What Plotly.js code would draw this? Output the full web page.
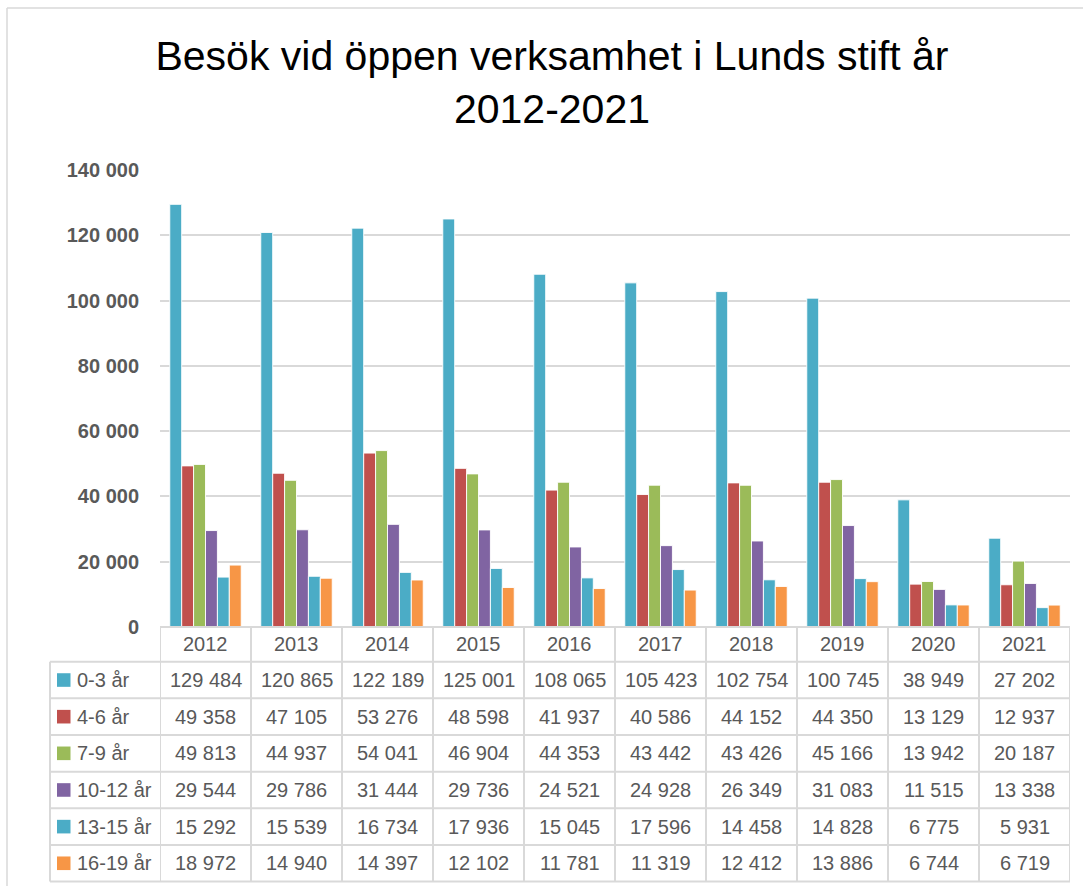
<!DOCTYPE html>
<html>
<head>
<meta charset="utf-8">
<script src="https://cdn.plot.ly/plotly-3.0.1.min.js"></script>
<style>html,body{margin:0;padding:0;background:#fff;}#chart{width:1083px;height:886px;}</style>
</head>
<body>
<div id="chart"></div>
<script>
// ---- Data ----
const years = ['2012','2013','2014','2015','2016','2017','2018','2019','2020','2021'];
const seriesNames = ['0-3 år','4-6 år','7-9 år','10-12 år','13-15 år','16-19 år'];
const age0_3   = [129484,120865,122189,125001,108065,105423,102754,100745,38949,27202];
const age4_6   = [49358,47105,53276,48598,41937,40586,44152,44350,13129,12937];
const age7_9   = [49813,44937,54041,46904,44353,43442,43426,45166,13942,20187];
const age10_12 = [29544,29786,31444,29736,24521,24928,26349,31083,11515,13338];
const age13_15 = [15292,15539,16734,17936,15045,17596,14458,14828,6775,5931];
const age16_19 = [18972,14940,14397,12102,11781,11319,12412,13886,6744,6719];
const seriesValues = [age0_3, age4_6, age7_9, age10_12, age13_15, age16_19];
const colors = ['#4BACC6','#C0504D','#9BBB59','#8064A2','#4BACC6','#F79646'];

// ---- Geometry helpers (pixel -> paper) ----
const W = 1083, H = 886;
const mL = 160, mR = 13, mT = 170, mB = 259;
const plotW = W - mL - mR, plotH = H - mT - mB;
const px = x => (x - mL) / plotW;
const py = y => (H - mB - y) / plotH;

const fmt = v => String(v).replace(/\B(?=(\d{3})+(?!\d))/g, ' ');

const traces = seriesValues.map((vals, i) => ({
  type: 'bar',
  name: seriesNames[i],
  x: years,
  y: vals,
  marker: {color: colors[i], line: {color: 'rgba(255,255,255,0.9)', width: 1}},
  hoverinfo: 'skip'
}));

const lineCol = '#d9d9d9';
const shapes = [];
const annotations = [];
const tableTop = 627, headBottom = 661.7, rowH = 36.65;
const tableBottom = headBottom + rowH * seriesNames.length;

// header top line
shapes.push({type:'line', xref:'paper', yref:'paper', x0:0, x1:1, y0:py(tableTop), y1:py(tableTop), line:{color:lineCol, width:2}});
// row lines
for (let r = 0; r <= seriesNames.length; r++) {
  const y = headBottom + rowH * r;
  shapes.push({type:'line', xref:'paper', yref:'paper', x0:px(50), x1:1, y0:py(y), y1:py(y), line:{color:lineCol, width:2}});
}
// vertical lines at category boundaries
for (let c = 0; c <= years.length; c++) {
  shapes.push({type:'line', xref:'x', yref:'paper', x0:c - 0.5, x1:c - 0.5, y0:py(tableTop), y1:py(tableBottom), line:{color:lineCol, width:2}});
}
// left border of label column
shapes.push({type:'line', xref:'paper', yref:'paper', x0:px(50), x1:px(50), y0:py(headBottom), y1:py(tableBottom), line:{color:lineCol, width:2}});
// outer chart border (top and left)
shapes.push({type:'line', xref:'paper', yref:'paper', x0:px(7), x1:px(1083), y0:py(8), y1:py(8), line:{color:lineCol, width:1.5}});
shapes.push({type:'line', xref:'paper', yref:'paper', x0:px(7), x1:px(7), y0:py(8), y1:py(886), line:{color:lineCol, width:1.5}});

const tFont = {family:'Liberation Sans, Arial, sans-serif', size:20, color:'#595959'};
// header years (category index positions on the x axis)
years.forEach((yr, c) => {
  annotations.push({xref:'x', yref:'paper', x:c, y:py((tableTop + headBottom)/2), text:yr, showarrow:false, xanchor:'center', yanchor:'middle', font:tFont});
});
// rows
seriesNames.forEach((nm, r) => {
  const yc = headBottom + rowH * (r + 0.5);
  shapes.push({type:'rect', xref:'paper', yref:'paper', x0:px(57), x1:px(70.5), y0:py(yc + 6.8), y1:py(yc - 6.8), fillcolor:colors[r], line:{width:0}});
  annotations.push({xref:'paper', yref:'paper', x:px(75), y:py(yc), text:nm, showarrow:false, xanchor:'left', yanchor:'middle', font:tFont});
  seriesValues[r].forEach((v, c) => {
    annotations.push({xref:'x', yref:'paper', x:c, y:py(yc), text:fmt(v), showarrow:false, xanchor:'center', yanchor:'middle', font:tFont});
  });
});

const layout = {
  width: W, height: H,
  margin: {l:mL, r:mR, t:mT, b:mB, pad:0},
  paper_bgcolor: '#fff', plot_bgcolor: '#fff',
  separators: ', ',
  title: {
    text: 'Besök vid öppen verksamhet i Lunds stift år<br>2012-2021',
    font: {family:'Liberation Sans, Arial, sans-serif', size:41, color:'#000'},
    x: 552/1083, xanchor:'center', xref:'container',
    y: 1 - 70/886, yanchor:'top', yref:'container'
  },
  showlegend: false,
  barmode: 'group',
  bargap: 0.215,
  bargroupgap: 0,
  xaxis: {
    type:'category', range:[-0.5, 9.5], showticklabels:false, showgrid:false,
    zeroline:false, showline:false, ticks:'', fixedrange:true
  },
  yaxis: {
    range:[0, 140000], dtick:20000, tick0:0, tickformat:',d',
    showgrid:true, gridcolor:lineCol, gridwidth:2,
    zeroline:false, showline:false, ticks:'',
    ticklabelstandoff: 20,
    tickfont: {family:'Liberation Sans, Arial, sans-serif', size:20, color:'#595959', weight:'bold'},
    fixedrange:true
  },
  shapes: shapes,
  annotations: annotations
};

Plotly.newPlot('chart', traces, layout, {displayModeBar:false, staticPlot:true});
</script>
</body>
</html>
